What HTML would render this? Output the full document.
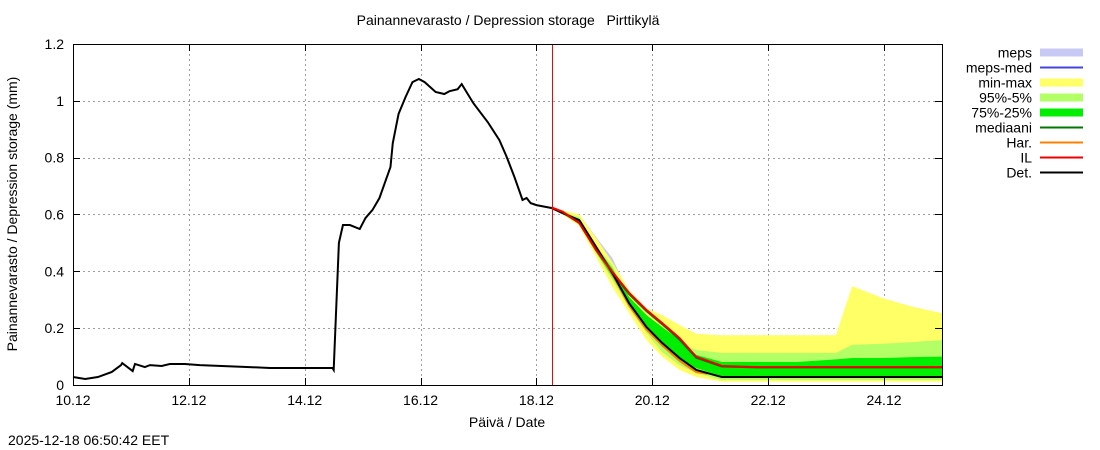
<!DOCTYPE html>
<html><head><meta charset="utf-8"><style>
body{margin:0;background:#fff;}
svg{display:block;font-family:"Liberation Sans",sans-serif;}
</style></head><body>
<svg id="c" width="1100" height="450" xmlns="http://www.w3.org/2000/svg">
<text x="508" y="25" text-anchor="middle" font-size="14">Painannevarasto / Depression storage&#160;&#160;&#160;Pirttikylä</text>
<text transform="translate(17,214) rotate(-90)" text-anchor="middle" font-size="14">Painannevarasto / Depression storage (mm)</text>
<text x="507" y="427" text-anchor="middle" font-size="14">Päivä / Date</text>
<text x="8" y="445" font-size="14">2025-12-18 06:50:42 EET</text>
<g id="grid"></g>
<g id="marks"></g>
<rect x="73.5" y="44.5" width="869" height="341" fill="none" stroke="#000" stroke-width="1"/>
<g id="ticks"></g>
<g id="legend"></g>
</svg>
<script>
const xTickLabels=["10.12","12.12","14.12","16.12","18.12","20.12","22.12","24.12"];
const xTickDays=[0,2,4,6,8,10,12,14];
const yTicks=[0,0.2,0.4,0.6,0.8,1,1.2];
const yTickLabels=["0","0.2","0.4","0.6","0.8","1","1.2"];
const obsDays=[0,0.21,0.43,0.67,0.83,0.85,1.03,1.07,1.24,1.33,1.53,1.67,1.93,2.19,3.05,3.4,4.48,4.5,4.59,4.66,4.78,4.95,5.05,5.17,5.29,5.48,5.52,5.62,5.74,5.86,5.97,6.07,6.26,6.41,6.5,6.64,6.71,6.91,7.16,7.36,7.48,7.62,7.76,7.83,7.9,8,8.26];
const obsVals=[0.028,0.021,0.028,0.046,0.07,0.077,0.049,0.074,0.063,0.07,0.067,0.074,0.074,0.07,0.063,0.06,0.06,0.053,0.5,0.563,0.563,0.549,0.588,0.616,0.658,0.767,0.851,0.954,1.013,1.066,1.077,1.066,1.031,1.024,1.034,1.041,1.059,0.992,0.925,0.862,0.806,0.732,0.651,0.658,0.64,0.633,0.623];
const fcDays=[8.26,8.45,8.74,9.03,9.31,9.6,9.9,10.17,10.47,10.76,11.2,11.8,12.5,13.17,13.45,13.97,14.5,15];
const minmaxHi=[0.625,0.615,0.6,0.517,0.433,0.334,0.27,0.246,0.211,0.18,0.175,0.175,0.175,0.175,0.348,0.306,0.275,0.253];
const minmaxLo=[0.62,0.6,0.56,0.45,0.345,0.253,0.158,0.1,0.053,0.028,0.012,0.012,0.012,0.012,0.012,0.012,0.012,0.012];
const p95Hi=[0.625,0.61,0.59,0.49,0.42,0.3,0.23,0.194,0.148,0.123,0.113,0.113,0.113,0.113,0.141,0.145,0.151,0.158];
const p95Lo=[0.62,0.6,0.565,0.464,0.37,0.27,0.183,0.116,0.07,0.042,0.018,0.018,0.018,0.018,0.018,0.018,0.018,0.018];
const p75Hi=[0.625,0.607,0.585,0.486,0.41,0.31,0.246,0.204,0.158,0.106,0.081,0.081,0.081,0.09,0.095,0.095,0.098,0.1];
const p75Lo=[0.62,0.603,0.57,0.468,0.38,0.281,0.194,0.134,0.088,0.06,0.03,0.025,0.025,0.025,0.025,0.025,0.025,0.025];
const mepsDays=[8.26,8.45,8.74,9.03,9.31,9.6];
const mepsHi=[0.625,0.612,0.6,0.52,0.447,0.32];
const mepsLo=[0.62,0.6,0.565,0.464,0.37,0.27];
const medVals=[0.625,0.608,0.57,0.475,0.396,0.32,0.26,0.214,0.16,0.096,0.065,0.062,0.062,0.062,0.062,0.062,0.062,0.062];
const ilVals=[0.625,0.61,0.57,0.475,0.398,0.324,0.264,0.218,0.165,0.099,0.067,0.063,0.063,0.063,0.063,0.063,0.063,0.063];
const detVals=[0.623,0.605,0.58,0.486,0.394,0.288,0.204,0.148,0.095,0.053,0.028,0.028,0.028,0.028,0.028,0.028,0.028,0.028];
const harDays=[8.26,8.45,8.74,9.03,9.31,9.6,9.9,10.17,10.47,10.76,10.95];
const harVals=[0.625,0.61,0.575,0.48,0.39,0.28,0.195,0.14,0.085,0.045,0.04];
const nowDay=8.26;

const X=d=>73+d*57.93, Y=v=>385-v*284.17;
const NS="http://www.w3.org/2000/svg";
function mk(parent,tag,attrs){const e=document.createElementNS(NS,tag);for(const k in attrs)e.setAttribute(k,attrs[k]);document.getElementById(parent).appendChild(e);return e;}
function bandPts(ds,hi,lo){let p=ds.map((d,i)=>X(d)+","+Y(hi[i]));for(let i=ds.length-1;i>=0;i--)p.push(X(ds[i])+","+Y(lo[i]));return p.join(" ");}
function linePts(ds,vs){return ds.map((d,i)=>X(d)+","+Y(vs[i])).join(" ");}
const px=v=>Math.round(v)+0.5;

yTicks.forEach((v,i)=>{
 if(v>0&&v<1.2){const g=mk('grid','line',{x1:73,x2:942,y1:px(Y(v)),y2:px(Y(v)),stroke:'#a0a0a0','stroke-dasharray':'2,3'});
 
 }
 const t=mk('ticks','text',{x:64,y:Y(v)+5,'text-anchor':'end','font-size':14});t.textContent=yTickLabels[i];
 
 
 mk('ticks','line',{x1:73,x2:80,y1:px(Y(v)),y2:px(Y(v)),stroke:'#000'});
 mk('ticks','line',{x1:935,x2:942,y1:px(Y(v)),y2:px(Y(v)),stroke:'#000'});
});
xTickDays.forEach((d,i)=>{
 if(d>0){const g=mk('grid','line',{x1:px(X(d)),x2:px(X(d)),y1:44,y2:385,stroke:'#a0a0a0','stroke-dasharray':'2,3'});
 
 }
 const t=mk('ticks','text',{x:X(d),y:405,'text-anchor':'middle','font-size':14});t.textContent=xTickLabels[i];
 
 
 mk('ticks','line',{x1:px(X(d)),x2:px(X(d)),y1:378,y2:385,stroke:'#000'});
 mk('ticks','line',{x1:px(X(d)),x2:px(X(d)),y1:44,y2:51,stroke:'#000'});
});

let e;
e=mk('marks','polygon',{points:bandPts(mepsDays,mepsHi,mepsLo),fill:'#c8c8f5'});


e=mk('marks','polygon',{points:bandPts(fcDays,minmaxHi,minmaxLo),fill:'#ffff66'});


e=mk('marks','polygon',{points:bandPts(fcDays,p95Hi,p95Lo),fill:'#b3ff66'});


e=mk('marks','polygon',{points:bandPts(fcDays,p75Hi,p75Lo),fill:'#00ee00'});


e=mk('marks','polyline',{points:linePts(fcDays,medVals),fill:'none',stroke:'#007700','stroke-width':2});


e=mk('marks','polyline',{points:linePts(harDays,harVals),fill:'none',stroke:'#ff8000','stroke-width':2});


e=mk('marks','polyline',{points:linePts(fcDays,detVals),fill:'none',stroke:'#000','stroke-width':2});


e=mk('marks','polyline',{points:linePts(fcDays,ilVals),fill:'none',stroke:'#ee0000','stroke-width':2});


e=mk('marks','polyline',{points:linePts(obsDays,obsVals),fill:'none',stroke:'#000','stroke-width':2});


e=mk('marks','line',{x1:px(X(nowDay)),x2:px(X(nowDay)),y1:44,y2:385,stroke:'#ff0000','stroke-width':1});



const legNames=["meps","meps-med","min-max","95%-5%","75%-25%","mediaani","Har.","IL","Det."];
const legColors=["#c8c8f5","#4444dd","#ffff66","#b3ff66","#00ee00","#007700","#ff8000","#ee0000","#000000"];
const legBand=[true,false,true,true,true,false,false,false,false];
legNames.forEach((n,i)=>{
 const y=52.5+i*15;
 const t=mk('legend','text',{x:1032,y:y+5,'text-anchor':'end','font-size':14});t.textContent=n;
 
 
 const s=legBand[i]?mk('legend','rect',{x:1040,y:y-4,width:43,height:8,fill:legColors[i]}):mk('legend','line',{x1:1040,x2:1083,y1:y,y2:y,stroke:legColors[i],'stroke-width':2});
 
 
});
</script>
</body></html>
